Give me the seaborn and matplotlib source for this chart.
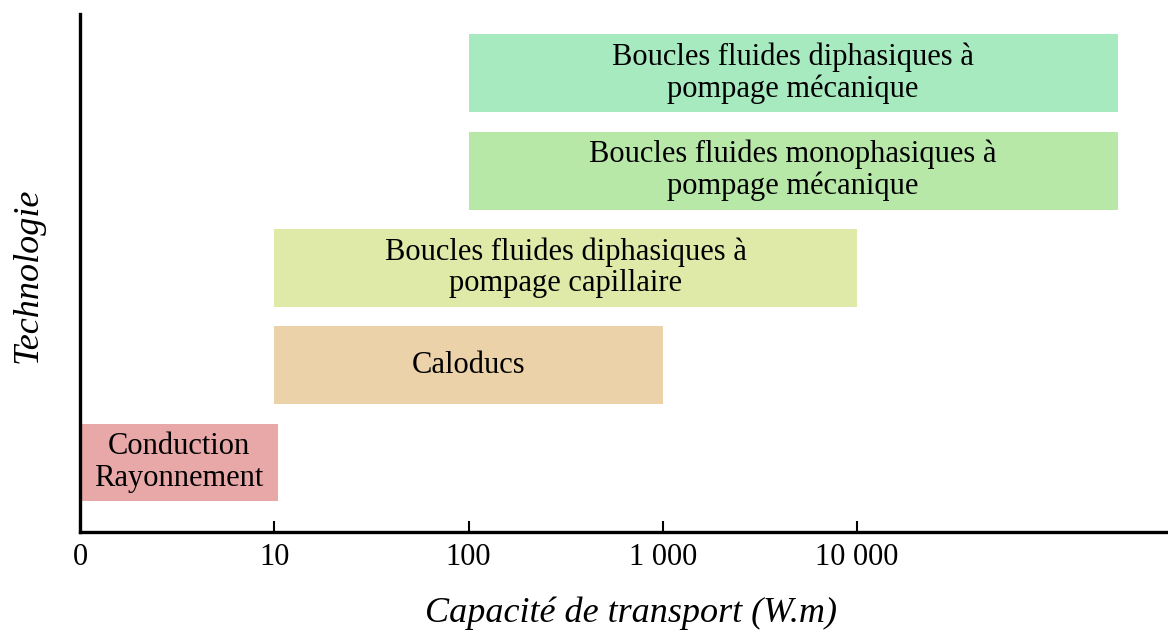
import matplotlib
matplotlib.use("Agg")
import matplotlib.pyplot as plt
import seaborn as sns
import pandas as pd

# Data (top to bottom)
technologies = [
    "Boucles fluides diphasiques à\npompage mécanique",
    "Boucles fluides monophasiques à\npompage mécanique",
    "Boucles fluides diphasiques à\npompage capillaire",
    "Caloducs",
    "Conduction\nRayonnement",
]
cap_min = [100, 100, 10, 10, 1]
cap_max = [220000, 220000, 10000, 1000, 10.5]
bar_colors = ["#A8EAC0", "#B8E8A8", "#DFEAA8", "#EBD2A8", "#E8A8A8"]
tick_values = [1, 10, 100, 1000, 10000]
tick_labels = ["0", "10", "100", "1 000", "10 000"]

sns.set_theme(style="white")
plt.rcParams["font.family"] = ["Liberation Serif", "DejaVu Serif"]

df = pd.DataFrame({"tech": technologies, "lo": cap_min, "hi": cap_max})

fig = plt.figure(figsize=(11.68, 6.33), dpi=100)
ax = fig.add_axes([80 / 1168, 1 - 532 / 633, 1 - 80 / 1168, (532 - 14) / 633])

sns.barplot(data=df, x="hi", y="tech", hue="tech", palette=bar_colors,
            orient="h", width=0.8, legend=False, ax=ax, saturation=1,
            linewidth=0)

ax.set_xscale("log")
for patch, lo, hi in zip(ax.patches, cap_min, cap_max):
    patch.set_x(lo)
    patch.set_width(hi - lo)

ax.set_xlim(1, 10 ** 5.601)
ax.set_ylim(4.715, -0.61)

for i, (t, lo, hi) in enumerate(zip(technologies, cap_min, cap_max)):
    xc = (lo * hi) ** 0.5
    ax.text(xc, i, t, ha="center", va="center", multialignment="center",
            fontsize=22, color="black", linespacing=1.1)

ax.set_xticks(tick_values)
ax.set_xticklabels(tick_labels, fontsize=22, color="black")
ax.xaxis.set_minor_locator(matplotlib.ticker.NullLocator())
ax.set_yticks([])
ax.tick_params(axis="x", direction="in", length=8, width=1.5, pad=8,
               colors="black", bottom=True)

for s in ["top", "right"]:
    ax.spines[s].set_visible(False)
for s in ["left", "bottom"]:
    ax.spines[s].set_linewidth(2.4)
    ax.spines[s].set_color("black")

ax.set_xlabel("Capacité de transport (W.m)", fontsize=26, style="italic",
              va="center", color="black")
ax.xaxis.set_label_coords(0.506, -0.156)
ax.set_ylabel("Technologie", fontsize=26, style="italic", va="center",
              color="black")
ax.yaxis.set_label_coords(-0.048, 0.496)

fig.savefig("out.png", dpi=100)
